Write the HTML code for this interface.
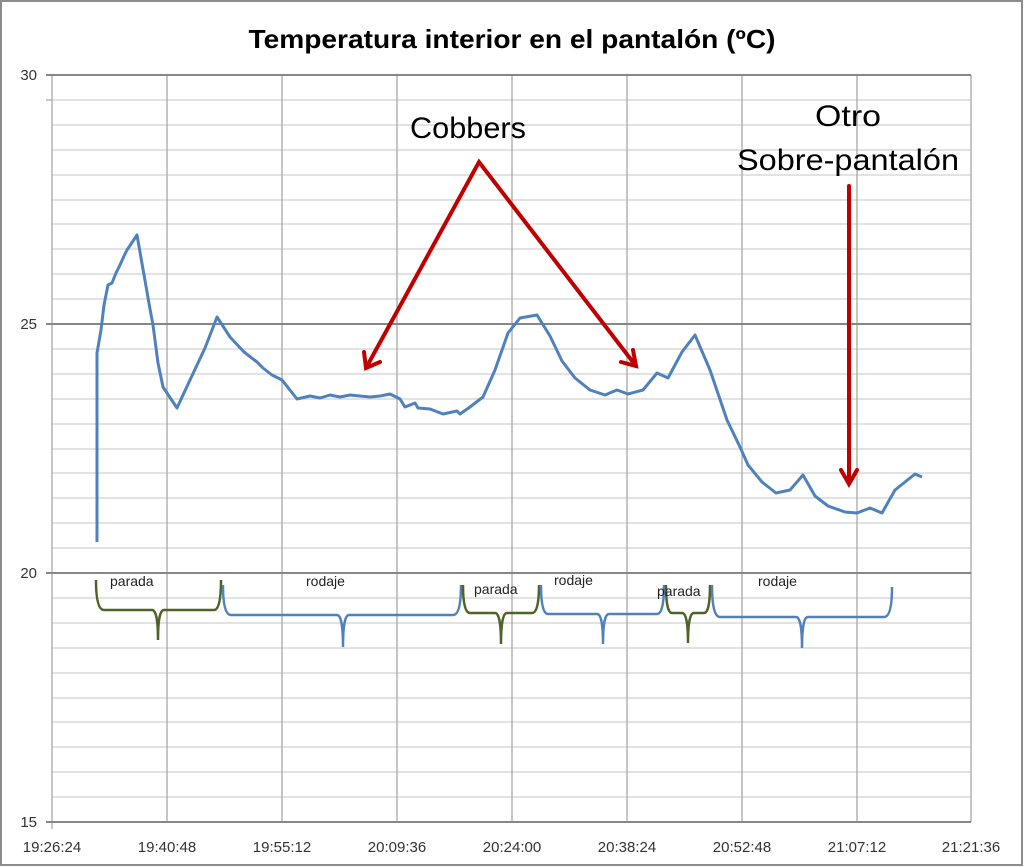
<!DOCTYPE html>
<html><head><meta charset="utf-8"><style>
html,body{margin:0;padding:0;background:#fff;}
svg{display:block;}
text{font-family:"Liberation Sans",sans-serif;}
</style></head><body>
<svg width="1024" height="867" viewBox="0 0 1024 867" xmlns="http://www.w3.org/2000/svg">
<rect x="1" y="1" width="1021" height="864" fill="#fff" stroke="#8c8c8c" stroke-width="2"/>
<text x="512" y="48" text-anchor="middle" font-size="26" font-weight="bold" textLength="527" lengthAdjust="spacingAndGlyphs">Temperatura interior en el pantalón (ºC)</text>
<g stroke="#d0d0d0" stroke-width="1.3">
<line x1="52" y1="100" x2="971" y2="100"/><line x1="52" y1="125" x2="971" y2="125"/><line x1="52" y1="150" x2="971" y2="150"/><line x1="52" y1="175" x2="971" y2="175"/><line x1="52" y1="200" x2="971" y2="200"/><line x1="52" y1="224" x2="971" y2="224"/><line x1="52" y1="249" x2="971" y2="249"/><line x1="52" y1="274" x2="971" y2="274"/><line x1="52" y1="299" x2="971" y2="299"/>
<line x1="52" y1="349" x2="971" y2="349"/><line x1="52" y1="374" x2="971" y2="374"/><line x1="52" y1="399" x2="971" y2="399"/><line x1="52" y1="424" x2="971" y2="424"/><line x1="52" y1="449" x2="971" y2="449"/><line x1="52" y1="473" x2="971" y2="473"/><line x1="52" y1="498" x2="971" y2="498"/><line x1="52" y1="523" x2="971" y2="523"/><line x1="52" y1="548" x2="971" y2="548"/>
<line x1="52" y1="598" x2="971" y2="598"/><line x1="52" y1="623" x2="971" y2="623"/><line x1="52" y1="648" x2="971" y2="648"/><line x1="52" y1="673" x2="971" y2="673"/><line x1="52" y1="698" x2="971" y2="698"/><line x1="52" y1="722" x2="971" y2="722"/><line x1="52" y1="747" x2="971" y2="747"/><line x1="52" y1="772" x2="971" y2="772"/><line x1="52" y1="797" x2="971" y2="797"/>
</g>
<g stroke="#a8a8a8" stroke-width="1.3">
<line x1="167" y1="75" x2="167" y2="822"/><line x1="282" y1="75" x2="282" y2="822"/><line x1="397" y1="75" x2="397" y2="822"/><line x1="512" y1="75" x2="512" y2="822"/><line x1="627" y1="75" x2="627" y2="822"/><line x1="742" y1="75" x2="742" y2="822"/><line x1="857" y1="75" x2="857" y2="822"/><line x1="971" y1="75" x2="971" y2="822"/>
<line x1="52" y1="75" x2="52" y2="829"/>
<line x1="46" y1="100" x2="52" y2="100"/>
</g>
<g stroke="#868686" stroke-width="2">
<line x1="46" y1="75" x2="971" y2="75"/><line x1="46" y1="324" x2="971" y2="324"/><line x1="46" y1="573" x2="971" y2="573"/><line x1="46" y1="822" x2="971" y2="822"/>
</g>
<g font-size="15" fill="#333" text-anchor="end">
<text x="37" y="80">30</text><text x="37" y="329">25</text><text x="37" y="578">20</text><text x="37" y="827">15</text>
</g>
<g font-size="15" fill="#333" text-anchor="middle">
<text x="52" y="852">19:26:24</text><text x="167" y="852">19:40:48</text><text x="282" y="852">19:55:12</text><text x="397" y="852">20:09:36</text><text x="512" y="852">20:24:00</text><text x="627" y="852">20:38:24</text><text x="742" y="852">20:52:48</text><text x="857" y="852">21:07:12</text><text x="971" y="852">21:21:36</text>
</g>
<polyline fill="none" stroke="#4f81bd" stroke-width="3" stroke-linejoin="round" points="97,542 97,353 101,330 104,305 108,285 112,283 116,273 120,265 124,256 127,250 137,235 150,309 153,325 158,363 163,387 177,408 190,380 205,348 217,317 230,337 244,352 257,362 263,368 272,375 282,380 297,399 310,396 320,398 330,395 340,397 350,395 360,396 370,397 380,396 390,394 400,399 405,407 415,403 418,408 430,409 443,414 457,411 460,414 470,407 483,397 495,370 508,333 520,318 537,315 550,336 562,361 575,378 590,390 605,395 617,390 628,394 643,390 657,373 668,378 682,352 695,335 710,370 727,420 740,447 748,465 762,482 776,493 790,490 803,475 815,496 828,506 845,512 857,513 870,508 882,513 895,490 905,482 915,474 922,477"/>
<g fill="none" stroke-width="2.5">
<path stroke="#4f6228" d="M96,580 Q96,610 104,610 L152,610 Q158,610 158,640 Q158,610 164,610 L214,610 Q221,610 221,580"/>
<path stroke="#4f81bd" d="M223,585 Q223,615 231,615 L337,615 Q343,615 343,647 Q343,615 349,615 L453,615 Q461,615 461,585"/>
<path stroke="#4f6228" d="M463,585 Q463,613 470,613 L495,613 Q501,613 501,644 Q501,613 507,613 L532,613 Q539,613 539,585"/>
<path stroke="#4f81bd" d="M541,585 Q541,614 548,614 L597,614 Q603,614 603,644 Q603,614 609,614 L657,614 Q664,614 664,585"/>
<path stroke="#4f6228" d="M666,585 Q666,613 672,613 L682,613 Q688,613 688,643 Q688,613 694,613 L704,613 Q710,613 710,585"/>
<path stroke="#4f81bd" d="M712,585 Q712,617 720,617 L796,617 Q802,617 802,648 Q802,617 808,617 L884,617 Q892,617 892,587"/>
</g>
<g font-size="14" fill="#222">
<text x="110" y="586">parada</text><text x="306" y="586">rodaje</text><text x="474" y="594">parada</text><text x="554" y="585">rodaje</text><text x="657" y="596">parada</text><text x="758" y="586">rodaje</text>
</g>
<g font-size="30" fill="#000" text-anchor="middle">
<text x="468" y="138" textLength="116" lengthAdjust="spacingAndGlyphs">Cobbers</text>
<text x="848" y="126" textLength="66" lengthAdjust="spacingAndGlyphs">Otro</text>
<text x="848" y="170" textLength="222" lengthAdjust="spacingAndGlyphs">Sobre-pantalón</text>
</g>
<g fill="none" stroke="#c00000" stroke-width="4" stroke-linecap="round">
<polyline points="366,368 479,162 636,366"/>
<polyline points="364,352 366,368 380,362"/>
<polyline points="621,362 636,366 633,350"/>
<line x1="849" y1="186" x2="849" y2="483"/>
<polyline points="841,470 849,484 857,470"/>
</g>
</svg>
</body></html>
